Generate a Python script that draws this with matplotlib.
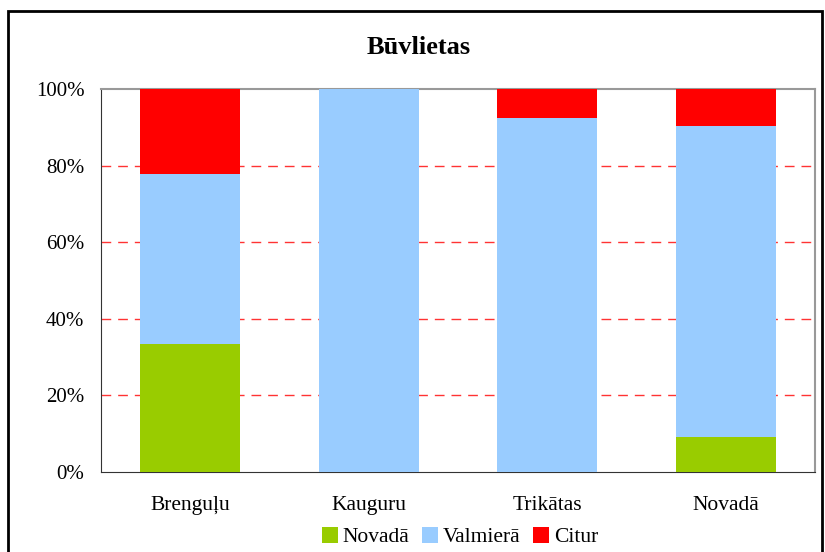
import matplotlib
matplotlib.use("Agg")
import matplotlib.pyplot as plt
from matplotlib.patches import Rectangle
import numpy as np

categories = ["Brenguļu", "Kauguru", "Trikātas", "Novadā"]
series_names = ["Novadā", "Valmierā", "Citur"]
novada = [33.3, 0.0, 0.0, 9.1]
valmiera = [44.4, 100.0, 92.3, 81.2]
citur = [22.3, 0.0, 7.7, 9.7]
colors = ["#99cc00", "#99ccff", "#ff0000"]
yticks = [0, 20, 40, 60, 80, 100]
ytick_labels = ["0%", "20%", "40%", "60%", "80%", "100%"]

plt.rcParams['font.family'] = ['Liberation Serif', 'DejaVu Serif']

fig = plt.figure(figsize=(8.25, 5.52), dpi=100)
ax = fig.add_axes([101/825, 1-472/552, 714/825, 383/552])

x = np.arange(len(categories))
w = 0.56
bottom = np.zeros(len(categories))
for name, vals, c in zip(series_names, [novada, valmiera, citur], colors):
    ax.bar(x, vals, w, bottom=bottom, color=c, label=name, zorder=3)
    bottom = bottom + np.array(vals)

ax.set_xlim(-0.5, len(categories)-0.5)
ax.set_ylim(0, 100)
ax.set_yticks(yticks)
ax.set_yticklabels(ytick_labels, fontsize=15)
ax.set_xticks(x)
ax.set_xticklabels(categories, fontsize=15.5)
ax.tick_params(axis='y', length=0, pad=12)
ax.tick_params(axis='x', length=0, pad=17)
for yv in yticks[1:-1]:
    ax.axhline(yv, color='#ff3333', lw=1, ls=(0, (7, 5)), zorder=1)

ax.spines['top'].set_color('#999999')
ax.spines['right'].set_color('#999999')
ax.spines['top'].set_linewidth(1.5)
ax.spines['right'].set_linewidth(1.5)
ax.spines['left'].set_color('#333333')
ax.spines['bottom'].set_color('#333333')

fig.text(0.507, 1-48/552, "Būvlietas", ha='center', va='center',
         fontsize=19, fontweight='bold')

leg = fig.legend(loc='center', bbox_to_anchor=(460/825, 1-537/552), ncol=3,
                 frameon=False, fontsize=15.5, handlelength=0.75, handleheight=0.75,
                 handletextpad=0.2, columnspacing=0.6, borderaxespad=0)

border = Rectangle((8/825, -0.1), (822-8)/825, 1.1-11/552, transform=fig.transFigure,
                   fill=False, edgecolor='black', lw=2, zorder=10)
fig.patches.append(border)

fig.savefig("out.png", dpi=100)
